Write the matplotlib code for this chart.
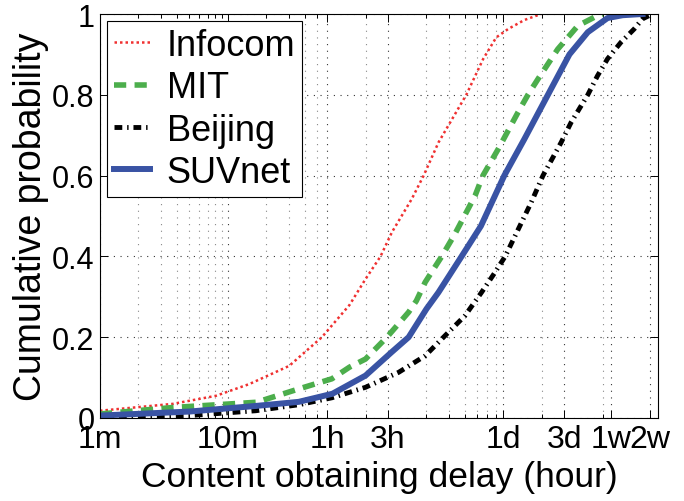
import numpy as np
import matplotlib
matplotlib.use("Agg")
import matplotlib.pyplot as plt
from matplotlib.ticker import FixedLocator, NullFormatter

plt.rcParams['font.family'] = ['Liberation Sans', 'DejaVu Sans']

# --- Data (delay in hours, cumulative probability) ----------------------------
infocom_h = [1/60, 0.062, 0.135, 0.246, 0.505, 0.91, 1.5, 2.0, 2.62, 3.22,
             4.6, 5.7, 7.45, 12.3, 16.7, 21.1, 26.2, 35.0, 47.3]
infocom_p = [0.018, 0.035, 0.055, 0.084, 0.129, 0.20, 0.28, 0.344, 0.40, 0.46,
             0.542, 0.60, 0.682, 0.80, 0.889, 0.942, 0.963, 0.985, 1.0]

mit_h = [1/60, 0.062, 0.28, 0.6, 1.09, 1.5, 2.0, 2.94, 4.35, 5.0, 5.86, 7.9, 10.0,
         14.4, 16.6, 21.9, 31.3, 37.4, 44.8, 64.0, 92.0, 131.0, 144.0]
mit_p = [0.01, 0.026, 0.039, 0.072, 0.097, 0.126, 0.146, 0.20, 0.262, 0.29, 0.336,
         0.40, 0.455, 0.55, 0.60, 0.666, 0.757, 0.80, 0.839, 0.913, 0.971, 0.996, 1.0]

beijing_h = [1/60, 0.084, 0.277, 0.604, 1.09, 2.0, 3.63, 5.86, 8.4, 12.0, 16.2,
             20.6, 24.8, 39.7, 49.0, 68.0, 81.5, 110.0, 131.0, 157.0, 200.0,
             254.0, 295.0, 353.0]
beijing_p = [0.002, 0.006, 0.018, 0.033, 0.05, 0.076, 0.113, 0.154, 0.204, 0.253,
             0.311, 0.36, 0.40, 0.534, 0.60, 0.682, 0.732, 0.80, 0.847, 0.889,
             0.93, 0.963, 0.988, 1.0]

suvnet_h = [1/60, 0.084, 0.28, 0.6, 1.1, 2.0, 3.2, 4.35, 6.0, 7.45, 11.3, 16.0,
            24.4, 35.0, 53.6, 79.0, 110.0, 157.0, 206.0, 295.0]
suvnet_p = [0.006, 0.016, 0.03, 0.04, 0.06, 0.105, 0.163, 0.20, 0.27, 0.311, 0.40,
            0.475, 0.60, 0.69, 0.80, 0.90, 0.955, 0.99, 0.997, 1.0]

tick_hours  = [1/60, 10/60, 1, 3, 24, 72, 168, 336]
tick_labels = ['1m', '10m', '1h', '3h', '1d', '3d', '1w', '2w']
minor_hours = [m/60 for m in range(2, 10)] + [m/60 for m in (20, 30, 40, 50)] + \
              [2, 6, 9, 12, 15, 18, 21, 48, 144]

# --- Figure -------------------------------------------------------------------
fig = plt.figure(figsize=(6.84, 5.02), dpi=100)
ax = fig.add_axes([100/684, 83/502, 558/684, 404/502])

ax.plot(infocom_h, infocom_p, color='#f03030', linestyle=(0, (1, 1.2)),
        linewidth=1.8, label='Infocom')
ax.plot(mit_h, mit_p, color='#4cae4c', linestyle=(0, (2.2, 1.5)),
        linewidth=4, label='MIT')
ax.plot(beijing_h, beijing_p, color='black', linestyle=(0, (1.6, 1.0, 0.3, 1.0)),
        linewidth=3.5, label='Beijing')
ax.plot(suvnet_h, suvnet_p, color='#3953a4', linestyle='-',
        linewidth=4.3, label='SUVnet')

ax.set_xscale('log')
ax.set_xlim(1/60, 390)
ax.set_ylim(0, 1)
ax.xaxis.set_major_locator(FixedLocator(tick_hours))
ax.xaxis.set_minor_locator(FixedLocator(minor_hours))
ax.xaxis.set_minor_formatter(NullFormatter())
ax.set_xticklabels(tick_labels)
ax.set_yticks([0, 0.2, 0.4, 0.6, 0.8, 1.0])
ax.set_yticklabels(['0', '0.2', '0.4', '0.6', '0.8', '1'])

ax.tick_params(which='both', direction='in', top=True, right=True, width=0.7)
ax.tick_params(which='major', length=6, pad=4)
ax.tick_params(which='minor', length=3)
ax.tick_params(axis='x', labelsize=23)
ax.tick_params(axis='y', labelsize=22)

# matlab-like dotted grid
ax.grid(which='major', axis='both', color='black', linestyle=(0, (1, 5)),
        linewidth=0.8, alpha=0.8)
ax.grid(which='minor', axis='x', color='#888888', linestyle=(0, (1, 5)),
        linewidth=0.8)

for s in ax.spines.values():
    s.set_linewidth(0.8)

ax.set_xlabel('Content obtaining delay (hour)', fontsize=25.5, labelpad=5)
ax.set_ylabel('Cumulative probability', fontsize=27, labelpad=2)

leg = ax.legend(loc='upper left', bbox_to_anchor=(0.0125, 0.983), borderaxespad=0,
                fontsize=26, handlelength=1.0, handletextpad=0.45,
                labelspacing=0.2, borderpad=0.2, fancybox=False, framealpha=1)
leg.get_frame().set_edgecolor('black')
leg.get_frame().set_linewidth(0.8)

fig.savefig('out.png', dpi=100)
